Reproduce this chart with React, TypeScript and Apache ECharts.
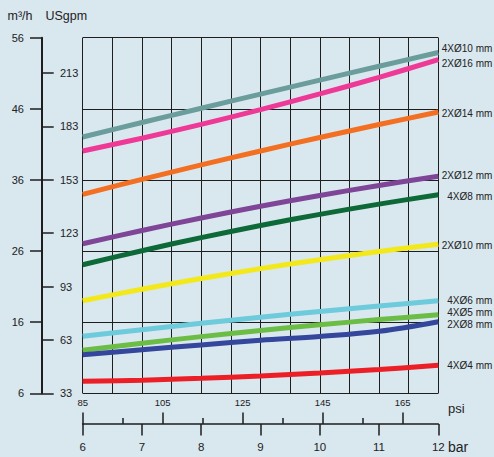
import React, { useEffect, useRef } from "react";
import * as echarts from "echarts";

// ---- data ----
const BAR_POINTS = [6, 7, 8, 9, 10, 11, 12];
const PSI_MAJOR = [85, 105, 125, 145, 165];
const PSI_MINOR = [95, 115, 135, 155];
const M3H_TICKS = [6, 16, 26, 36, 46, 56];
const GPM_TICKS = [33, 63, 93, 123, 153, 183, 213];

const s4x10 = [42.04, 44.07, 46.08, 48.07, 50.04, 51.99, 53.92];
const s2x16 = [40.07, 41.87, 43.81, 45.88, 48.09, 50.43, 52.91];
const s2x14 = [33.98, 36.08, 38.11, 40.07, 41.97, 43.79, 45.55];
const s2x12 = [27.03, 28.9, 30.65, 32.29, 33.81, 35.22, 36.51];
const s4x8 = [24.08, 26.05, 27.89, 29.59, 31.16, 32.6, 33.91];
const s2x10 = [19.02, 20.64, 22.15, 23.53, 24.79, 25.94, 26.96];
const s4x6 = [14.01, 14.95, 15.85, 16.7, 17.51, 18.28, 19.01];
const s4x5 = [12.05, 13.04, 13.97, 14.83, 15.63, 16.37, 17.04];
const s2x8 = [11.43, 12.12, 12.8, 13.45, 13.99, 14.72, 16.07];
const s4x4 = [7.69, 7.85, 8.1, 8.43, 8.85, 9.35, 9.94];

const SERIES_NAMES = [
  "4XØ10 mm",
  "2XØ16 mm",
  "2XØ14 mm",
  "2XØ12 mm",
  "4XØ8 mm",
  "2XØ10 mm",
  "4XØ6 mm",
  "4XØ5 mm",
  "2XØ8 mm",
  "4XØ4 mm",
];
const SERIES_VALUES = [s4x10, s2x16, s2x14, s2x12, s4x8, s2x10, s4x6, s4x5, s2x8, s4x4];

// ---- styles ----
const SERIES_COLORS = [
  "#6a9d9c",
  "#ee3a96",
  "#f36f21",
  "#7f4597",
  "#0d6a38",
  "#f3e81a",
  "#6dcbdc",
  "#6cbd45",
  "#34479c",
  "#ec1f26",
];
// vertical shift of each end label (px, + = down)
const LABEL_SHIFT = [-4, 3.5, 1, -1, 2, 1, 0, -2, 3, 0];

const FONT = 'Arial, "Liberation Sans", Helvetica, sans-serif';
const INK = "#1e1e1e";
const TEXT = "#222";
const BG = "#d9e7ef";

const PSI_MAX = 173.9;
const GPM_MAX = 232.8;

export default function App() {
  const ref = useRef<HTMLDivElement>(null);

  useEffect(() => {
    if (!ref.current) return;
    const chart = echarts.init(ref.current, undefined, { renderer: "svg" });
    const last = BAR_POINTS.length - 1;

    const series = SERIES_NAMES.map((name, i) => ({
      type: "line",
      name,
      xAxisIndex: 0,
      yAxisIndex: 0,
      data: BAR_POINTS.map((b, j) =>
        j === last
          ? {
              value: [b, SERIES_VALUES[i][j]],
              label: {
                show: true,
                formatter: name,
                position: [54, LABEL_SHIFT[i]],
                align: "right",
                verticalAlign: "middle",
                color: TEXT,
                fontSize: 10,
                fontFamily: FONT,
              },
            }
          : [b, SERIES_VALUES[i][j]]
      ),
      smooth: 0.35,
      showSymbol: true,
      symbol: "circle",
      symbolSize: 0.01,
      label: { show: false },
      lineStyle: { color: SERIES_COLORS[i], width: 5, cap: "butt" },
      itemStyle: { color: SERIES_COLORS[i] },
      emphasis: { disabled: true },
      z: 3,
    }));

    const option: any = {
      animation: false,
      backgroundColor: BG,
      grid: { left: 82.7, top: 37.7, width: 355.6, height: 355.6, containLabel: false },
      xAxis: [
        {
          type: "value",
          min: 6,
          max: 12,
          interval: 1,
          position: "bottom",
          offset: 30.7,
          axisLine: { show: true, onZero: false, lineStyle: { color: INK, width: 1.7 } },
          axisTick: { show: true, length: 11.5, lineStyle: { color: INK, width: 1.5 } },
          axisLabel: {
            show: true,
            margin: 17,
            fontSize: 11.5,
            color: TEXT,
            fontFamily: FONT,
            showMinLabel: true,
            showMaxLabel: true,
          },
          splitLine: { show: false },
        },
        {
          type: "value",
          min: 85,
          max: PSI_MAX,
          position: "bottom",
          offset: 0,
          axisLine: { show: false, onZero: false },
          axisTick: { show: false },
          axisLabel: {
            show: true,
            customValues: PSI_MAJOR,
            margin: 4,
            fontSize: 9.5,
            color: TEXT,
            fontFamily: FONT,
          },
          splitLine: { show: false },
        },
        {
          type: "value",
          min: 85,
          max: PSI_MAX,
          position: "bottom",
          offset: 30.7,
          axisLine: { show: false, onZero: false },
          axisTick: {
            show: true,
            inside: true,
            length: 11.5,
            customValues: PSI_MAJOR,
            lineStyle: { color: INK, width: 1.5 },
          },
          axisLabel: { show: false },
          splitLine: { show: false },
        },
        {
          type: "value",
          min: 85,
          max: PSI_MAX,
          position: "bottom",
          offset: 30.7,
          axisLine: { show: false, onZero: false },
          axisTick: {
            show: true,
            inside: true,
            length: 6,
            customValues: PSI_MINOR,
            lineStyle: { color: INK, width: 1.5 },
          },
          axisLabel: { show: false },
          splitLine: { show: false },
        },
        {
          type: "value",
          min: 6,
          max: 12,
          interval: 0.5,
          position: "top",
          axisLine: { show: false, onZero: false },
          axisTick: { show: false },
          axisLabel: { show: false },
          splitLine: { show: true, lineStyle: { color: INK, width: 1 } },
        },
      ],
      yAxis: [
        {
          type: "value",
          min: M3H_TICKS[0],
          max: M3H_TICKS[M3H_TICKS.length - 1],
          interval: 10,
          position: "left",
          offset: 40.7,
          axisLine: { show: true, onZero: false, lineStyle: { color: INK, width: 2 } },
          axisTick: { show: true, length: 12, lineStyle: { color: INK, width: 1.5 } },
          axisLabel: { show: true, margin: 18, fontSize: 11, color: TEXT, fontFamily: FONT },
          splitLine: { show: true, lineStyle: { color: INK, width: 1 } },
        },
        {
          type: "value",
          min: GPM_TICKS[0],
          max: GPM_MAX,
          position: "left",
          offset: 40.7,
          axisLine: { show: false, onZero: false },
          axisTick: {
            show: true,
            inside: true,
            length: 11.7,
            customValues: GPM_TICKS,
            lineStyle: { color: INK, width: 1.5 },
          },
          axisLabel: {
            show: true,
            inside: true,
            margin: 18,
            customValues: GPM_TICKS,
            fontSize: 11,
            color: TEXT,
            fontFamily: FONT,
          },
          splitLine: { show: false },
        },
      ],
      graphic: [
        {
          type: "text",
          left: 7.5,
          top: 9,
          style: { text: "m³/h", fontSize: 12.5, fill: TEXT, fontFamily: FONT },
        },
        {
          type: "text",
          left: 45.5,
          top: 9,
          style: { text: "USgpm", fontSize: 12.5, fill: TEXT, fontFamily: FONT },
        },
        {
          type: "text",
          left: 448,
          top: 402,
          style: { text: "psi", fontSize: 13, fill: TEXT, fontFamily: FONT },
        },
        {
          type: "text",
          left: 448,
          top: 440,
          style: { text: "bar", fontSize: 14, fill: TEXT, fontFamily: FONT },
        },
      ],
      series,
    };

    chart.setOption(option);
    return () => chart.dispose();
  }, []);

  return (
    <div
      ref={ref}
      style={{ position: "fixed", left: 0, top: 0, width: 494, height: 457, background: BG }}
    />
  );
}
